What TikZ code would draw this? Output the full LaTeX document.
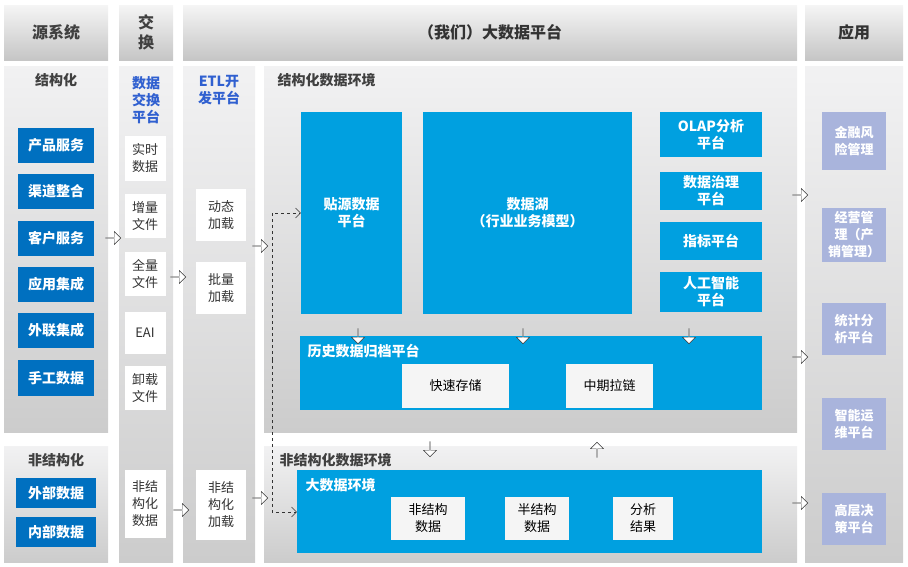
\documentclass[tikz,border=0pt]{standalone}
\usepackage{fontspec}
\setmainfont{Noto Sans CJK SC}
\usetikzlibrary{shapes.arrows, arrows.meta}
\definecolor{dblue}{HTML}{0070C0}
\definecolor{lblue}{HTML}{00A0E0}
\definecolor{lav}{HTML}{A9B4DC}
\definecolor{ttl}{HTML}{3060D0}
\tikzset{
  hdr/.style={draw=none, top color=gray!8, bottom color=gray!45},
  pnl/.style={draw=none, top color=blue!4!gray!10, bottom color=gray!40},
  src/.style={fill=dblue, text=white, font=\fontsize{14}{16}\selectfont\bfseries},
  wbox/.style={fill=white, text=black!80, font=\fontsize{13}{17}\selectfont, align=center},
  gbox/.style={fill=gray!8, text=black, font=\fontsize{13}{17}\selectfont, align=center},
  bbox/.style={fill=lblue, text=white, font=\fontsize{14}{17}\selectfont\bfseries, align=center},
  app/.style={fill=lav, text=white, font=\fontsize{13}{17}\selectfont\bfseries, align=center},
  blk/.style={single arrow, draw=black!80, fill=white, thin, minimum width=13pt, single arrow head extend=2.5pt, minimum height=15pt, inner sep=0pt},
}
\newcommand{\rbox}[5]{\node[#1, minimum width=#4-#2, minimum height=1, inner sep=0pt] (tmp) at (#2,#3) {};}
\begin{document}
\begin{tikzpicture}[x=1pt, y=-1pt]
  \useasboundingbox (0,0) rectangle (908,566);
  % headers
  \draw[hdr] (4,5) rectangle (108,60);
  \node[font=\fontsize{16}{18}\selectfont\bfseries, text=black!75] (h1) at (56,32) {源系统};
  \draw[hdr] (119,5) rectangle (173,60);
  \node[font=\fontsize{16}{20}\selectfont\bfseries, text=black!75, align=center] (h2) at (146,32) {交\\换};
  \draw[hdr] (183,5) rectangle (797,60);
  \node[font=\fontsize{16}{18}\selectfont\bfseries, text=black!80] (h3) at (490,32) {（我们）大数据平台};
  \draw[hdr] (805,5) rectangle (903,60);
  \node[font=\fontsize{16}{18}\selectfont\bfseries, text=black!80] (h4) at (854,32) {应用};
  % panels
  \draw[pnl] (4,66) rectangle (108,432);
  \draw[pnl] (4,446) rectangle (108,562);
  \draw[pnl] (119,66) rectangle (173,562);
  \draw[pnl] (183,66) rectangle (255,562);
  \draw[pnl] (264,66) rectangle (797,432);
  \draw[pnl] (264,446) rectangle (797,562);
  \draw[pnl] (805,66) rectangle (903,562);
  \node[font=\fontsize{14}{16}\selectfont\bfseries, text=black!75] (t1) at (56,80) {结构化};
  \node[font=\fontsize{14}{16}\selectfont\bfseries, text=black!75] (t2) at (56,460) {非结构化};
  \node[font=\fontsize{14}{17}\selectfont\bfseries, text=ttl, align=center] (t3) at (146,100) {数据\\交换\\平台};
  \node[font=\fontsize{14}{17}\selectfont\bfseries, text=ttl, align=center] (t4) at (219,90) {ETL开\\发平台};
  \node[font=\fontsize{14}{16}\selectfont\bfseries, text=black!75, anchor=west] (t5) at (274,80) {结构化数据环境};
  \node[font=\fontsize{14}{16}\selectfont\bfseries, text=black!75, anchor=west] (t6) at (276,460) {非结构化数据环境};
  % source systems
  \node[src, minimum width=76pt, minimum height=35pt] (cpfw) at (56,145) {产品服务};
  \node[src, minimum width=76pt, minimum height=35pt] (qdzh) at (56,191) {渠道整合};
  \node[src, minimum width=76pt, minimum height=35pt] (khfw) at (56,238) {客户服务};
  \node[src, minimum width=76pt, minimum height=35pt] (yyjc) at (56,284) {应用集成};
  \node[src, minimum width=76pt, minimum height=35pt] (wljc) at (56,330) {外联集成};
  \node[src, minimum width=76pt, minimum height=36pt] (sgsj) at (56,378) {手工数据};
  \node[src, minimum width=80pt, minimum height=30pt] (wbsj) at (56,493) {外部数据};
  \node[src, minimum width=80pt, minimum height=30pt] (nbsj) at (56,532) {内部数据};
  % exchange
  \node[wbox, minimum width=41pt, minimum height=45pt, inner sep=0pt] (sssj) at (145,158) {实时\\数据};
  \node[wbox, minimum width=41pt, minimum height=44pt, inner sep=0pt] (zlwj) at (145,216) {增量\\文件};
  \node[wbox, minimum width=41pt, minimum height=44pt, inner sep=0pt] (qlwj) at (145,274) {全量\\文件};
  \node[wbox, minimum width=41pt, minimum height=42pt, inner sep=0pt] (eai) at (145,333) {EAI};
  \node[wbox, minimum width=41pt, minimum height=44pt, inner sep=0pt] (xzwj) at (145,388) {卸载\\文件};
  \node[wbox, minimum width=41pt, minimum height=68pt, inner sep=0pt] (fjgsj) at (145,504) {非结\\构化\\数据};
  % etl
  \node[wbox, minimum width=50pt, minimum height=52pt, inner sep=0pt] (dtjz) at (221,215) {动态\\加载};
  \node[wbox, minimum width=50pt, minimum height=52pt, inner sep=0pt] (pljz) at (221,288) {批量\\加载};
  \node[wbox, minimum width=50pt, minimum height=70pt, inner sep=0pt] (fjgjz) at (221,505) {非结\\构化\\加载};
  % structured env
  \node[bbox, minimum width=101pt, minimum height=202pt] (tysj) at (351.5,213) {贴源数据\\平台};
  \node[bbox, minimum width=209pt, minimum height=202pt] (sjh) at (527.5,213) {数据湖\\（行业业务模型）};
  \node[bbox, minimum width=102pt, minimum height=45pt, inner sep=0pt] (olap) at (711,134.5) {OLAP分析\\平台};
  \node[bbox, minimum width=102pt, minimum height=38pt, inner sep=0pt] (sjzl) at (711,191) {数据治理\\平台};
  \node[bbox, minimum width=102pt, minimum height=38pt, inner sep=0pt] (zbpt) at (711,241) {指标平台};
  \node[bbox, minimum width=102pt, minimum height=40pt, inner sep=0pt] (rgzn) at (711,292) {人工智能\\平台};
  \node[bbox, minimum width=462pt, minimum height=74pt] (lssj) at (531,373) {};
  \node[bbox, anchor=west] (lsttl) at (304,351) {历史数据归档平台};
  \node[gbox, minimum width=107pt, minimum height=44pt] (kscc) at (455.5,386) {快速存储};
  \node[gbox, minimum width=87pt, minimum height=44pt] (zqll) at (609.5,386) {中期拉链};
  % unstructured env
  \node[bbox, minimum width=465pt, minimum height=83pt] (dsj) at (529.5,511.5) {};
  \node[bbox, anchor=west] (dsjttl) at (302,485) {大数据环境};
  \node[gbox, minimum width=74pt, minimum height=43pt] (fjg) at (428,518.5) {非结构\\数据};
  \node[gbox, minimum width=64pt, minimum height=43pt] (bjg) at (537,518.5) {半结构\\数据};
  \node[gbox, minimum width=60pt, minimum height=43pt] (fxjg) at (643,518.5) {分析\\结果};
  % applications
  \node[app, minimum width=64pt, minimum height=58pt, inner sep=0pt] (jrfx) at (854,141) {金融风\\险管理};
  \node[app, minimum width=64pt, minimum height=54pt, inner sep=0pt] (jygl) at (854,235) {经营管\\理（产\\销管理）};
  \node[app, minimum width=64pt, minimum height=52pt, inner sep=0pt] (tjfx) at (854,329) {统计分\\析平台};
  \node[app, minimum width=64pt, minimum height=52pt, inner sep=0pt] (znyw) at (854,424) {智能运\\维平台};
  \node[app, minimum width=64pt, minimum height=52pt, inner sep=0pt] (gcjc) at (854,519) {高层决\\策平台};
  % block arrows
  \node[blk] (a1) at (113,238) {};
  \node[blk] (a2) at (178,277) {};
  \node[blk] (a3) at (181,510) {};
  \node[blk] (a4) at (260,246) {};
  \node[blk] (a5) at (260,498) {};
  \node[blk] (a6) at (800,195) {};
  \node[blk] (a7) at (800,357) {};
  \node[blk] (a8) at (800,503) {};
  \node[blk, rotate=-90] (d1) at (358,336) {};
  \node[blk, rotate=-90] (d2) at (523,336) {};
  \node[blk, rotate=-90] (d3) at (689,336) {};
  \node[blk, rotate=-90] (d4) at (430,449) {};
  \node[blk, rotate=90] (u1) at (597,450) {};
  % dashed links
  \coordinate (dv) at (272,360);
  \draw[dashed, black!80, -{Straight Barb[length=5pt]}] (dv) |- (tysj.west |- 0,213);
  \draw[dashed, black!80, -{Straight Barb[length=5pt]}] (dv) |- (dsj.west |- 0,512);
\end{tikzpicture}
\end{document}
